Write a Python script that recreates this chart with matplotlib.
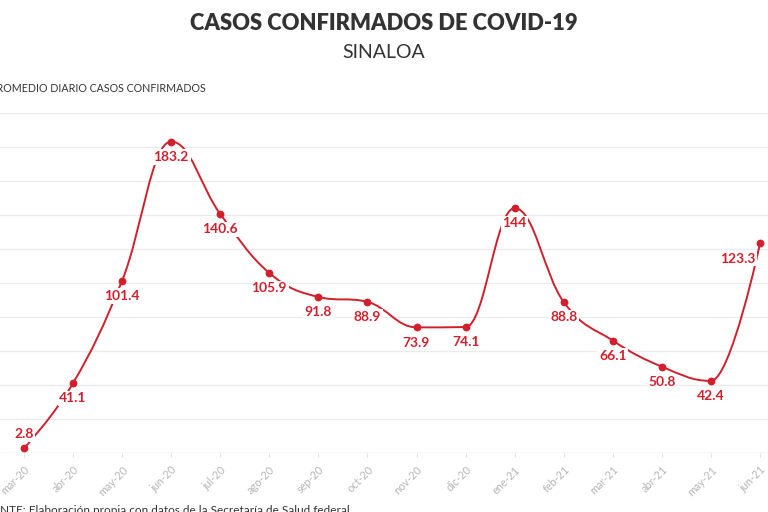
import matplotlib
matplotlib.use("Agg")
import matplotlib.pyplot as plt
from matplotlib.path import Path
from matplotlib.patches import PathPatch

# --- data ---
months = ["mar-20", "abr-20", "may-20", "jun-20", "jul-20", "ago-20", "sep-20", "oct-20",
          "nov-20", "dic-20", "ene-21", "feb-21", "mar-21", "abr-21", "may-21", "jun-21"]
promedio = [2.8, 41.1, 101.4, 183.2, 140.6, 105.9, 91.8, 88.9,
            73.9, 74.1, 144, 88.8, 66.1, 50.8, 42.4, 123.3]

title = "CASOS CONFIRMADOS DE COVID-19"
subtitle = "SINALOA"
y_label = "PROMEDIO DIARIO CASOS CONFIRMADOS"
source = "FUENTE: Elaboración propia con datos de la Secretaría de Salud federal"

RED = "#d31f2c"
plt.rcParams["font.family"] = ["Lato", "DejaVu Sans"]


def spline_path(xs, ys, smoothing=1.5):
    # highcharts-like spline: cubic bezier with control points from neighbours
    denom = smoothing + 1
    n = len(xs)
    left = [None] * n
    right = [None] * n
    for i in range(n):
        x, y = xs[i], ys[i]
        if i == 0 or i == n - 1:
            left[i] = (x, y)
            right[i] = (x, y)
            continue
        lx, ly = xs[i - 1], ys[i - 1]
        nx, ny = xs[i + 1], ys[i + 1]
        lcx = (smoothing * x + lx) / denom
        lcy = (smoothing * y + ly) / denom
        rcx = (smoothing * x + nx) / denom
        rcy = (smoothing * y + ny) / denom
        if rcx != lcx:
            corr = (rcy - lcy) * (rcx - x) / (rcx - lcx) + y - rcy
            lcy += corr
            rcy += corr
        if lcy > ly and lcy > y:
            lcy = max(ly, y)
            rcy = 2 * y - lcy
        elif lcy < ly and lcy < y:
            lcy = min(ly, y)
            rcy = 2 * y - lcy
        if rcy > ny and rcy > y:
            rcy = max(ny, y)
            lcy = 2 * y - rcy
        elif rcy < ny and rcy < y:
            rcy = min(ny, y)
            lcy = 2 * y - rcy
        left[i] = (lcx, lcy)
        right[i] = (rcx, rcy)
    verts = [(xs[0], ys[0])]
    codes = [Path.MOVETO]
    for i in range(1, n):
        verts += [right[i - 1], left[i], (xs[i], ys[i])]
        codes += [Path.CURVE4] * 3
    return Path(verts, codes)


fig = plt.figure(figsize=(7.68, 5.12), dpi=100)
ax = fig.add_axes([0.0, 59 / 512, 1.0, 340 / 512])

xs = list(range(len(months)))
ax.set_xlim(-0.489, 15.163)
ax.set_ylim(0, 200)
ax.set_yticks(range(0, 201, 20))
ax.set_yticklabels([])
ax.tick_params(axis="y", length=0)
ax.grid(axis="y", color="#ebebeb", linewidth=0.9)
ax.set_axisbelow(True)
for s in ax.spines.values():
    s.set_visible(False)
ax.axhline(0, color="#e2e2e2", linewidth=0.9, zorder=1)

ax.set_xticks(xs)
ax.set_xticklabels(months, rotation=45, ha="right", rotation_mode="anchor",
                   fontsize=7.8, color="#b5b5b5")
ax.tick_params(axis="x", length=3, color="#e2e2e2", pad=5)

ax.add_patch(PathPatch(spline_path(xs, promedio), facecolor="none",
                       edgecolor=RED, linewidth=1.4, zorder=2))
ax.plot(xs, promedio, "o", color=RED, markersize=4.6, zorder=5)

for i, v in enumerate(promedio):
    dx, dy = 0, -11
    if i == 0:
        dy = 10
    elif i == len(promedio) - 1:
        dx, dy = -16, -11
    ax.annotate(f"{v:g}", (xs[i], v), xytext=(dx, dy), textcoords="offset points",
                ha="center", va="center", fontsize=10, fontweight="bold", color=RED,
                zorder=4,
                bbox=dict(boxstyle="square,pad=0.12", facecolor="white", edgecolor="none"))

fig.text(0.5, 1 - 24 / 512, title, ha="center", va="center", fontsize=15.8,
         fontweight="heavy", color="#333333")
fig.text(0.5, 1 - 53 / 512, subtitle, ha="center", va="center", fontsize=14,
         color="#333333")
fig.text(206 / 768, 1 - 88 / 512, y_label, ha="right", va="center", fontsize=7.7,
         color="#333333")
fig.text(350 / 768, 1 - 511 / 512, source, ha="right", va="center", fontsize=8.5,
         color="#333333")

fig.savefig("out.png", dpi=100)
